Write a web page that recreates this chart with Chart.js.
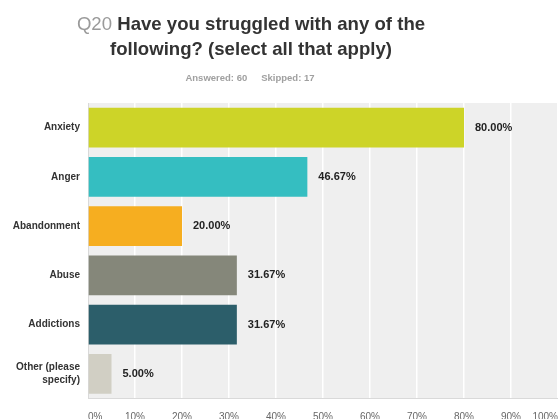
<!DOCTYPE html>
<html>
<head>
<meta charset="utf-8">
<script src="https://cdn.jsdelivr.net/npm/chart.js@4.4.0/dist/chart.umd.min.js"></script>
<style>
  html, body { margin: 0; padding: 0; background: #fff; overflow: hidden; }
  #wrap { position: relative; width: 558px; height: 419px; font-family: "Liberation Sans", Arial, sans-serif; }
  #chart { position: absolute; left: 0; top: 0; }
  .title { position: absolute; left: 0; top: 11px; width: 502px; text-align: center;
           font-size: 18.6px; line-height: 25px; font-weight: bold; color: #333; }
  .title .q { color: #9a9a9a; font-weight: normal; }
  .sub { position: absolute; left: 0; top: 72px; width: 500px; text-align: center;
         font-size: 9.5px; line-height: 12px; font-weight: bold; color: #a0a0a0; }
  .sub span + span { margin-left: 14px; }
</style>
</head>
<body>
<div id="wrap">
  <canvas id="chart" width="558" height="419"></canvas>
  <div class="title"><span class="q">Q20</span> Have you struggled with any of the<br>following? (select all that apply)</div>
  <div class="sub"><span>Answered: 60</span><span>Skipped: 17</span></div>
</div>
<script>
// answer options and share of respondents (%)
const categories = ['Anxiety', 'Anger', 'Abandonment', 'Abuse', 'Addictions', ['Other (please', 'specify)']];
const values = [80.00, 46.67, 20.00, 31.67, 31.67, 5.00];
const barColors = ['#cdd428', '#35bec1', '#f6ae20', '#85877a', '#2c5e6a', '#d1cfc4'];
const xTicks = [0, 10, 20, 30, 40, 50, 60, 70, 80, 90, 100];

const FONT = '"Liberation Sans", Arial, sans-serif';

// grey panel behind the bars
const plotBg = {
  id: 'plotBg',
  beforeDraw(chart){
    const a = chart.chartArea, ctx = chart.ctx;
    ctx.save();
    ctx.fillStyle = '#efefef';
    ctx.fillRect(a.left, a.top, a.right - a.left, a.bottom - a.top);
    ctx.restore();
  }
};

// percentage text to the right of each bar
const valueLabels = {
  id: 'valueLabels',
  afterDatasetsDraw(chart){
    const ctx = chart.ctx;
    const meta = chart.getDatasetMeta(0);
    ctx.save();
    ctx.font = 'bold 11px ' + FONT;
    ctx.fillStyle = '#222';
    ctx.textAlign = 'left';
    ctx.textBaseline = 'middle';
    meta.data.forEach((bar, i)=>{
      ctx.fillText(values[i].toFixed(2) + '%', bar.x + 11, bar.y);
    });
    ctx.restore();
  }
};

new Chart(document.getElementById('chart'), {
  type: 'bar',
  data: {
    labels: categories,
    datasets: [{
      data: values,
      backgroundColor: barColors,
      borderWidth: 0,
      barPercentage: 0.81,
      categoryPercentage: 1
    }]
  },
  options: {
    indexAxis: 'y',
    responsive: false,
    animation: false,
    layout: { padding: { top: 103, left: 0, right: 0, bottom: 0 } },
    plugins: { legend: { display: false }, tooltip: { enabled: false } },
    scales: {
      x: {
        min: 0, max: 100,
        afterBuildTicks(axis){ axis.ticks = xTicks.map(v=>({ value: v })); },
        afterFit(axis){
          axis.height = 20.5;
          // let the panel run to the right edge; end labels sit inside
          axis.paddingLeft = 0;
          axis.paddingRight = 0;
        },
        grid: { color: '#ffffff', lineWidth: 1.5, drawTicks: false },
        border: { display: true, color: '#d9d9d9' },
        ticks: {
          align: 'inner',
          padding: 13,
          color: '#666',
          font: { family: FONT, size: 10 },
          callback: v => v + '%'
        }
      },
      y: {
        afterFit(axis){ axis.width = 88; },
        grid: { display: false, drawTicks: false },
        border: { display: true, color: '#d9d9d9' },
        ticks: {
          padding: 8,
          color: '#333',
          font: { family: FONT, size: 10, weight: 'bold', lineHeight: 1.3 }
        }
      }
    }
  },
  plugins: [plotBg, valueLabels]
});
</script>
</body>
</html>
